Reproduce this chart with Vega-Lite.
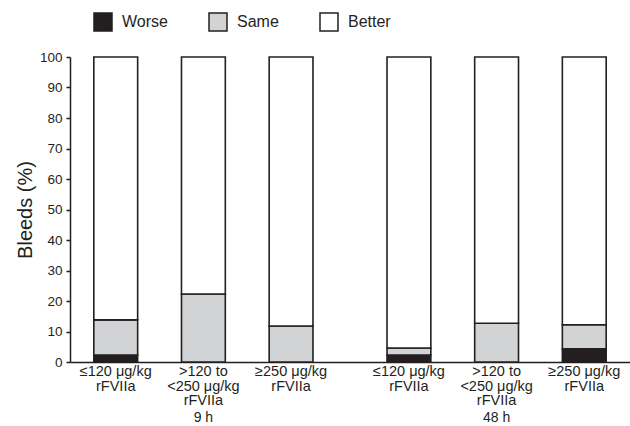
{
  "$schema": "https://vega.github.io/schema/vega-lite/v6.json",
  "width": 560,
  "height": 305,
  "autosize": {"type": "none"},
  "padding": {"left": 70, "top": 57, "right": 0, "bottom": 64},
  "background": "white",
  "config": {
    "view": {"stroke": null},
    "font": "Liberation Sans",
    "axis": {"labelColor": "#231f20", "titleColor": "#231f20", "domainColor": "#231f20", "tickColor": "#231f20", "grid": false, "labelFont": "Liberation Sans", "titleFont": "Liberation Sans"}
  },
  "layer": [
    {
      "data": {
        "values": [
          {"time": "9 h", "dose": "low", "response": "Worse", "pct": 2.3},
          {"time": "9 h", "dose": "low", "response": "Same", "pct": 11.5},
          {"time": "9 h", "dose": "low", "response": "Better", "pct": 86.2},
          {"time": "9 h", "dose": "mid", "response": "Worse", "pct": 0},
          {"time": "9 h", "dose": "mid", "response": "Same", "pct": 22.3},
          {"time": "9 h", "dose": "mid", "response": "Better", "pct": 77.7},
          {"time": "9 h", "dose": "high", "response": "Worse", "pct": 0},
          {"time": "9 h", "dose": "high", "response": "Same", "pct": 11.8},
          {"time": "9 h", "dose": "high", "response": "Better", "pct": 88.2},
          {"time": "48 h", "dose": "low", "response": "Worse", "pct": 2.3},
          {"time": "48 h", "dose": "low", "response": "Same", "pct": 2.3},
          {"time": "48 h", "dose": "low", "response": "Better", "pct": 95.4},
          {"time": "48 h", "dose": "mid", "response": "Worse", "pct": 0},
          {"time": "48 h", "dose": "mid", "response": "Same", "pct": 12.7},
          {"time": "48 h", "dose": "mid", "response": "Better", "pct": 87.3},
          {"time": "48 h", "dose": "high", "response": "Worse", "pct": 4.3},
          {"time": "48 h", "dose": "high", "response": "Same", "pct": 7.9},
          {"time": "48 h", "dose": "high", "response": "Better", "pct": 87.8}
        ]
      },
      "mark": {"type": "bar", "stroke": "#231f20", "strokeWidth": 1.6},
      "encoding": {
        "x": {
          "field": "time", "type": "nominal", "sort": ["9 h", "48 h"],
          "scale": {"paddingInner": 0.103, "paddingOuter": 0.0065},
          "axis": {"title": null, "ticks": false, "labelAngle": 0, "labelPadding": 48, "labelFontSize": 14, "domainWidth": 1.5}
        },
        "xOffset": {
          "field": "dose", "type": "nominal", "sort": ["low", "mid", "high"],
          "scale": {"paddingInner": 0.5, "paddingOuter": 0.25}
        },
        "y": {
          "field": "pct", "type": "quantitative", "stack": "zero",
          "scale": {"domain": [0, 100], "nice": false},
          "axis": {"title": "Bleeds (%)", "titleFontSize": 20, "titleFontWeight": "normal", "titlePadding": 4, "labelFontSize": 13.5, "values": [0,10,20,30,40,50,60,70,80,90,100], "labelOverlap": false, "tickSize": 4, "labelPadding": 4, "domainWidth": 1.5, "tickWidth": 1.5}
        },
        "color": {
          "field": "response", "type": "nominal", "sort": ["Worse", "Same", "Better"],
          "scale": {"domain": ["Worse", "Same", "Better"], "range": ["#231f20", "#d1d3d4", "#ffffff"]},
          "legend": {
            "title": null, "orient": "none", "direction": "horizontal", "legendX": 23, "legendY": -45,
            "symbolType": "square", "symbolSize": 324, "symbolStrokeColor": "#231f20", "symbolStrokeWidth": 1.5,
            "labelFontSize": 16, "labelColor": "#231f20", "labelOffset": 9, "columnPadding": 38, "labelFont": "Liberation Sans"
          }
        },
        "order": {"field": "response", "sort": "descending"}
      }
    },
    {
      "data": {
        "values": [
          {"time": "9 h", "dose": "low", "label": "≤120 μg/kg\nrFVIIa"},
          {"time": "9 h", "dose": "mid", "label": ">120 to\n<250 μg/kg\nrFVIIa"},
          {"time": "9 h", "dose": "high", "label": "≥250 μg/kg\nrFVIIa"},
          {"time": "48 h", "dose": "low", "label": "≤120 μg/kg\nrFVIIa"},
          {"time": "48 h", "dose": "mid", "label": ">120 to\n<250 μg/kg\nrFVIIa"},
          {"time": "48 h", "dose": "high", "label": "≥250 μg/kg\nrFVIIa"}
        ]
      },
      "mark": {"type": "text", "baseline": "top", "align": "center", "dy": 3, "fontSize": 14.5, "lineHeight": 14.5, "lineBreak": "\n", "color": "#231f20"},
      "encoding": {
        "x": {"field": "time", "type": "nominal", "sort": ["9 h", "48 h"],
          "axis": {"title": null, "ticks": false, "labelAngle": 0, "labelPadding": 48, "labelFontSize": 14, "domainWidth": 1.5}},
        "xOffset": {"field": "dose", "type": "nominal", "sort": ["low", "mid", "high"]},
        "y": {"datum": 0, "type": "quantitative",
          "axis": {"title": "Bleeds (%)", "titleFontSize": 20, "titleFontWeight": "normal", "titlePadding": 4, "labelFontSize": 13.5, "values": [0,10,20,30,40,50,60,70,80,90,100], "labelOverlap": false, "tickSize": 4, "labelPadding": 4, "domainWidth": 1.5, "tickWidth": 1.5}},
        "text": {"field": "label"}
      }
    }
  ]
}
